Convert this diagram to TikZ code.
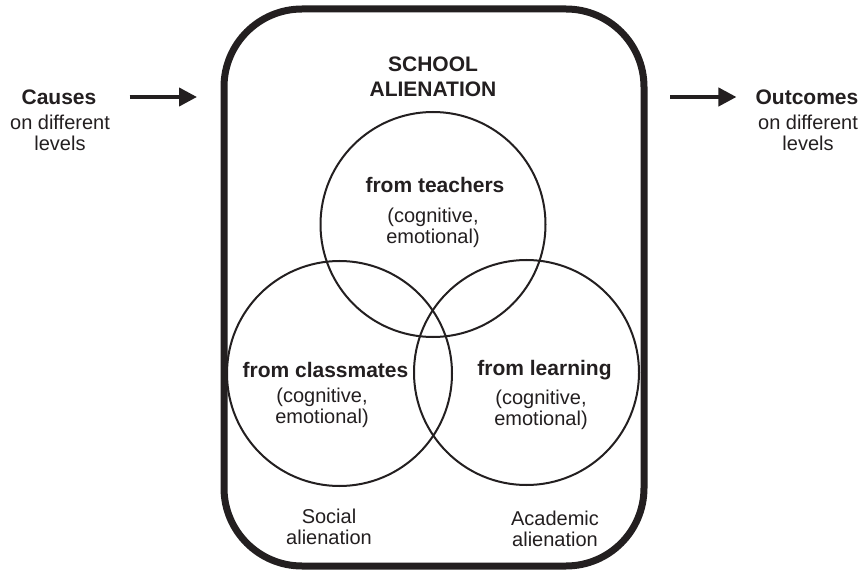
\documentclass[tikz,border=0pt]{standalone}
\usepackage{fontspec}
\setmainfont{Liberation Sans}
\usetikzlibrary{arrows.meta}
\definecolor{ink}{HTML}{231F20}
\begin{document}
\begin{tikzpicture}[x=1pt,y=-1pt,
  headtxt/.style={font=\fontsize{21}{25}\selectfont\bfseries, text=ink, align=center, inner sep=0pt},
  subtxt/.style={font=\fontsize{20}{21.5}\selectfont, text=ink, align=center, inner sep=0pt},
  circ/.style={draw=ink, line width=2pt, circle, minimum size=225pt, inner sep=0pt},
  frm/.style={draw=ink, line width=7pt, rounded corners=78pt, minimum width=420pt, minimum height=557pt, outer sep=0pt, inner sep=0pt},
  arr/.style={draw=ink, line width=4pt, -{Triangle[length=18pt,width=18pt]}}
]
\useasboundingbox (0,0) rectangle (865,572);
\fill[white] (0,0) rectangle (865,572);

% frame
\node[frm] (frame) at (434,287.5) {};

% circles
\node[circ] (ct) at (433,224.5) {};
\node[circ] (cl) at (339.5,373.5) {};
\node[circ] (cr) at (526.5,372.5) {};

% title
\node[headtxt] (title) at (433,77) {SCHOOL\\ALIENATION};

% circle texts
\node[headtxt] (tt) at (435,185) {from teachers};
\node[subtxt] (ts) at (433,228) {(cognitive,\\emotional)};
\node[headtxt] (lt) at (325.5,370) {from classmates};
\node[subtxt] (ls) at (322,408) {(cognitive,\\emotional)};
\node[headtxt] (rt) at (544.5,370) {from learning};
\node[subtxt] (rs) at (541,410) {(cognitive,\\emotional)};

% bottom labels
\node[subtxt] (soc) at (329,527) {Social\\alienation};
\node[subtxt] (aca) at (555,529) {Academic\\alienation};

% side texts
\node[headtxt] (causes) at (59,97) {Causes};
\node[subtxt] (causesub) at (60,133) {on different\\levels};
\node[headtxt] (outc) at (807,97) {Outcomes};
\node[subtxt] (outcsub) at (808,133) {on different\\levels};

% arrows
\draw[arr] ([xshift=33pt]causes.east) -- ([xshift=-27pt]frame.west |- causes.east);
\draw[arr] ([xshift=26pt]frame.east |- outc.west) -- ([xshift=-19pt]outc.west);
\end{tikzpicture}
\end{document}
